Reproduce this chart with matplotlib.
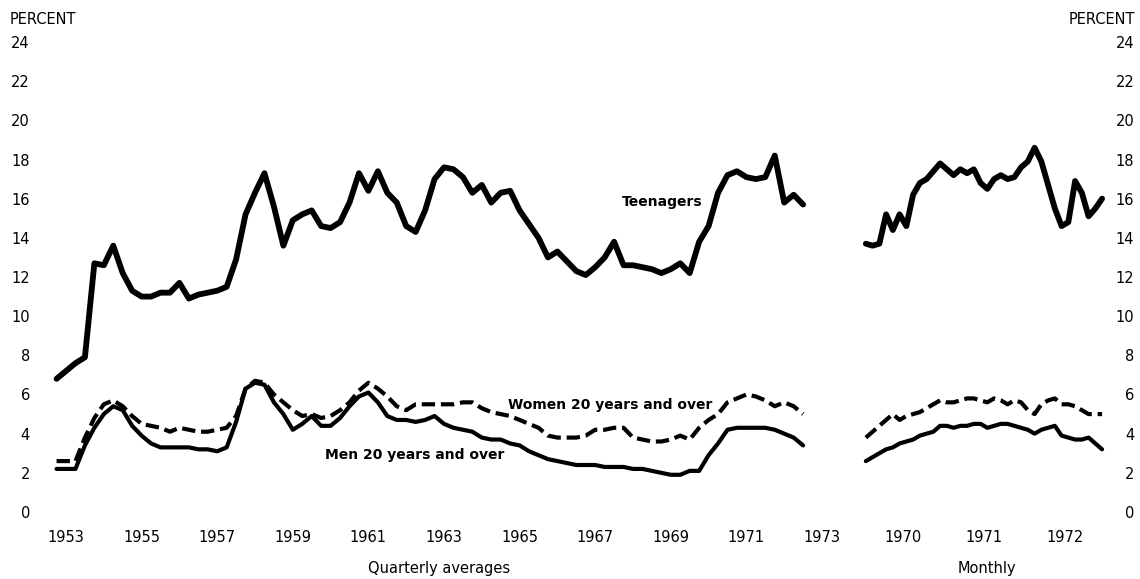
import matplotlib
matplotlib.use("Agg")
import matplotlib.pyplot as plt
import numpy as np

# ---------------- data ----------------
# Quarterly averages, 80 quarters starting 1953 Q1
q_start_year = 1953
teen_q = [6.8, 7.2, 7.6, 7.9, 12.7, 12.6, 13.6, 12.2, 11.3, 11.0,
          11.0, 11.2, 11.2, 11.7, 10.9, 11.1, 11.2, 11.3, 11.5, 12.9,
          15.2, 16.3, 17.3, 15.6, 13.6, 14.9, 15.2, 15.4, 14.6, 14.5,
          14.8, 15.8, 17.3, 16.4, 17.4, 16.3, 15.8, 14.6, 14.3, 15.4,
          17.0, 17.6, 17.5, 17.1, 16.3, 16.7, 15.8, 16.3, 16.4, 15.4,
          14.7, 14.0, 13.0, 13.3, 12.8, 12.3, 12.1, 12.5, 13.0, 13.8,
          12.6, 12.6, 12.5, 12.4, 12.2, 12.4, 12.7, 12.2, 13.8, 14.6,
          16.3, 17.2, 17.4, 17.1, 17.0, 17.1, 18.2, 15.8, 16.2, 15.7]
women_q = [2.6, 2.6, 2.6, 3.8, 4.8, 5.5, 5.7, 5.4, 4.9, 4.5,
           4.4, 4.3, 4.1, 4.3, 4.2, 4.1, 4.1, 4.2, 4.3, 4.9,
           6.3, 6.7, 6.6, 6.0, 5.6, 5.2, 4.9, 5.0, 4.8, 4.9,
           5.2, 5.6, 6.2, 6.6, 6.3, 5.9, 5.4, 5.2, 5.5, 5.5,
           5.5, 5.5, 5.5, 5.6, 5.6, 5.3, 5.1, 5.0, 4.9, 4.7,
           4.5, 4.3, 3.9, 3.8, 3.8, 3.8, 3.9, 4.2, 4.2, 4.3,
           4.3, 3.8, 3.7, 3.6, 3.6, 3.7, 3.9, 3.7, 4.3, 4.7,
           5.0, 5.6, 5.8, 6.0, 5.9, 5.7, 5.4, 5.6, 5.4, 5.0]
men_q = [2.2, 2.2, 2.2, 3.4, 4.3, 5.0, 5.4, 5.2, 4.4, 3.9,
         3.5, 3.3, 3.3, 3.3, 3.3, 3.2, 3.2, 3.1, 3.3, 4.6,
         6.3, 6.6, 6.5, 5.6, 5.0, 4.2, 4.5, 4.9, 4.4, 4.4,
         4.8, 5.4, 5.9, 6.1, 5.6, 4.9, 4.7, 4.7, 4.6, 4.7,
         4.9, 4.5, 4.3, 4.2, 4.1, 3.8, 3.7, 3.7, 3.5, 3.4,
         3.1, 2.9, 2.7, 2.6, 2.5, 2.4, 2.4, 2.4, 2.3, 2.3,
         2.3, 2.2, 2.2, 2.1, 2.0, 1.9, 1.9, 2.1, 2.1, 2.9,
         3.5, 4.2, 4.3, 4.3, 4.3, 4.3, 4.2, 4.0, 3.8, 3.4]

# Monthly, 36 months starting January 1970
m_start_year = 1970
teen_m = [13.7, 13.6, 13.7, 15.2, 14.4, 15.2, 14.6, 16.2, 16.8, 17.0,
          17.4, 17.8, 17.5, 17.2, 17.5, 17.3, 17.5, 16.8, 16.5, 17.0,
          17.2, 17.0, 17.1, 17.6, 17.9, 18.6, 17.9, 16.7, 15.5, 14.6,
          14.8, 16.9, 16.3, 15.1, 15.5, 16.0]
women_m = [3.8, 4.1, 4.4, 4.7, 5.0, 4.7, 4.9, 5.0, 5.1, 5.3,
           5.5, 5.7, 5.6, 5.6, 5.7, 5.8, 5.8, 5.7, 5.6, 5.8,
           5.7, 5.5, 5.7, 5.6, 5.2, 5.0, 5.5, 5.7, 5.8, 5.5,
           5.5, 5.4, 5.2, 5.0, 5.0, 5.0]
men_m = [2.6, 2.8, 3.0, 3.2, 3.3, 3.5, 3.6, 3.7, 3.9, 4.0,
         4.1, 4.4, 4.4, 4.3, 4.4, 4.4, 4.5, 4.5, 4.3, 4.4,
         4.5, 4.5, 4.4, 4.3, 4.2, 4.0, 4.2, 4.3, 4.4, 3.9,
         3.8, 3.7, 3.7, 3.8, 3.5, 3.2]

left_years = list(range(1953, 1975, 2))
right_years = [1970, 1971, 1972]
y_ticks = list(range(0, 25, 2))

# ---------------- figure ----------------
W, H = 1140, 579
fig = plt.figure(figsize=(W / 100, H / 100), dpi=100)
plt.rcParams['font.family'] = ['DejaVu Sans']

def fx(px):
    return px / W

def fy(py):
    return 1 - py / H

ax1 = fig.add_axes([fx(45), fy(512), fx(790), 470 / H])
ax2 = fig.add_axes([fx(850), fy(512), fx(260), 470 / H])

xq = q_start_year + 0.25 * np.arange(len(teen_q))
xm = m_start_year + (np.arange(len(teen_m)) + 0.5) / 12.0

teen_kw = dict(color='black', lw=4.2, solid_joinstyle='round', solid_capstyle='round')
men_kw = dict(color='black', lw=3.0, solid_joinstyle='round', solid_capstyle='round')
women_kw = dict(color='black', lw=3.0, linestyle=(0, (3.2, 1.4)),
                dash_capstyle='butt', dash_joinstyle='round')

for ax, x, t, w, m in [(ax1, xq, teen_q, women_q, men_q),
                       (ax2, xm, teen_m, women_m, men_m)]:
    ax.plot(x, t, **teen_kw)
    ax.plot(x, w, **women_kw)
    ax.plot(x, m, **men_kw)
    ax.set_ylim(0, 24)
    ax.set_yticks(y_ticks)
    for s in ax.spines.values():
        s.set_visible(False)
    ax.set_facecolor('none')

# left panel axes
ax1.set_xlim(1952.694, 1973.594)
ax1.set_xticks([y + 0.25 for y in left_years])
ax1.set_xticklabels([str(y) for y in left_years])
ax1.tick_params(axis='x', length=0, pad=13, labelsize=10.5)
ax1.tick_params(axis='y', length=0, pad=10.8, labelsize=10.5)

# right panel axes
ax2.set_xlim(1969.846, 1973.056)
ax2.set_xticks([y + 0.5 for y in right_years])
ax2.set_xticklabels([str(y) for y in right_years])
ax2.tick_params(axis='x', length=0, pad=13, labelsize=10.5)
ax2.yaxis.tick_right()
ax2.tick_params(axis='y', length=0, pad=17.5, labelsize=10.5)
for lab in ax2.get_yticklabels():
    lab.set_horizontalalignment('right')

# series labels
ax1.text(1969.02, 15.83, 'Teenagers', fontsize=10, fontweight='bold',
         ha='center', va='center')
ax1.text(1967.64, 5.46, 'Women 20 years and over', fontsize=10,
         fontweight='bold', ha='center', va='center')
ax1.text(1962.48, 2.91, 'Men 20 years and over', fontsize=10,
         fontweight='bold', ha='center', va='center')

# axis titles and captions
fig.text(fx(10), fy(20), 'PERCENT', fontsize=10.5, ha='left', va='center')
fig.text(fx(1135), fy(20), 'PERCENT', fontsize=10.5, ha='right', va='center')
fig.text(fx(439), fy(569), 'Quarterly averages', fontsize=10.5,
         ha='center', va='center')
fig.text(fx(987), fy(569), 'Monthly', fontsize=10.5, ha='center', va='center')

fig.savefig('out.png', dpi=100)
